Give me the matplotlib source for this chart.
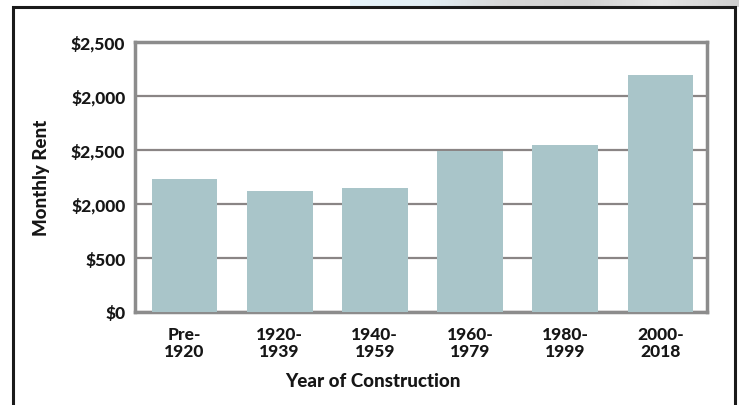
import numpy as np
import matplotlib.pyplot as plt
from matplotlib.patches import Rectangle
from matplotlib.colors import LinearSegmentedColormap

periods = ['Pre-\n1920', '1920-\n1939', '1940-\n1959', '1960-\n1979', '1980-\n1999', '2000-\n2018']
rent = [1230, 1125, 1145, 1492, 1546, 2198]
tick_values = [0, 500, 1000, 1500, 2000, 2500]
tick_labels = ['$0', '$500', '$2,000', '$2,500', '$2,000', '$2,500']

plt.rcParams['font.family'] = ['Lato', 'DejaVu Sans']
text_color = '#161616'

fig = plt.figure(figsize=(7.39, 4.06), dpi=100)

# backdrop strip above the frame, top right (light blue fading to grey)
strip = fig.add_axes([350 / 739, 1 - 8 / 406, 389 / 739, 8 / 406])
strip.set_axis_off()
cmap = LinearSegmentedColormap.from_list(
    'strip', ['#e6f3fa', '#e2eef4', '#d6d6d6', '#d2d2d2', '#e4e4e4', '#cfcfcf'])
strip.imshow(np.linspace(0, 1, 200)[None, :], aspect='auto', cmap=cmap,
             extent=(0, 1, 0, 1))

# black outer frame
fig.patches.append(Rectangle((13 / 739, -0.05), 722 / 739, 1.05 - 8 / 406,
                             transform=fig.transFigure, facecolor='white',
                             edgecolor='#1a1a1a', linewidth=2.2, zorder=1))

ax = fig.add_axes([135 / 739, 1 - 313 / 406, 572 / 739, 270 / 406])
ax.set_zorder(2)
ax.bar(range(len(periods)), rent, width=0.69, color='#a9c5c9', zorder=3)

ax.set_xlim(-0.52, 5.49)
ax.set_ylim(0, 2500)
ax.set_yticks(tick_values)
ax.set_yticklabels(tick_labels)
ax.set_xticks(range(len(periods)))
ax.set_xticklabels(periods, linespacing=1.05)

ax.grid(axis='y', color='#8a8585', linewidth=1.6, zorder=1)
ax.tick_params(length=0, colors=text_color)
ax.tick_params(axis='y', pad=7, labelsize=12.5)
ax.tick_params(axis='x', pad=10, labelsize=12.5)
for lab in ax.get_xticklabels() + ax.get_yticklabels():
    lab.set_fontweight('black')

for s in ax.spines.values():
    s.set_color('#8c8c8c')
    s.set_linewidth(2.5)

ax.set_xlabel('Year of Construction', fontsize=13.5, fontweight='black',
              color=text_color)
ax.set_ylabel('Monthly Rent', fontsize=13.5, fontweight='black',
              color=text_color)
ax.xaxis.set_label_coords((373 - 135) / 572, (313 - 382) / 270)
ax.xaxis.label.set_va('center')
ax.yaxis.set_label_coords((41 - 135) / 572, (313 - 178) / 270)
ax.yaxis.label.set_va('center')

fig.savefig('out.png', dpi=100)
